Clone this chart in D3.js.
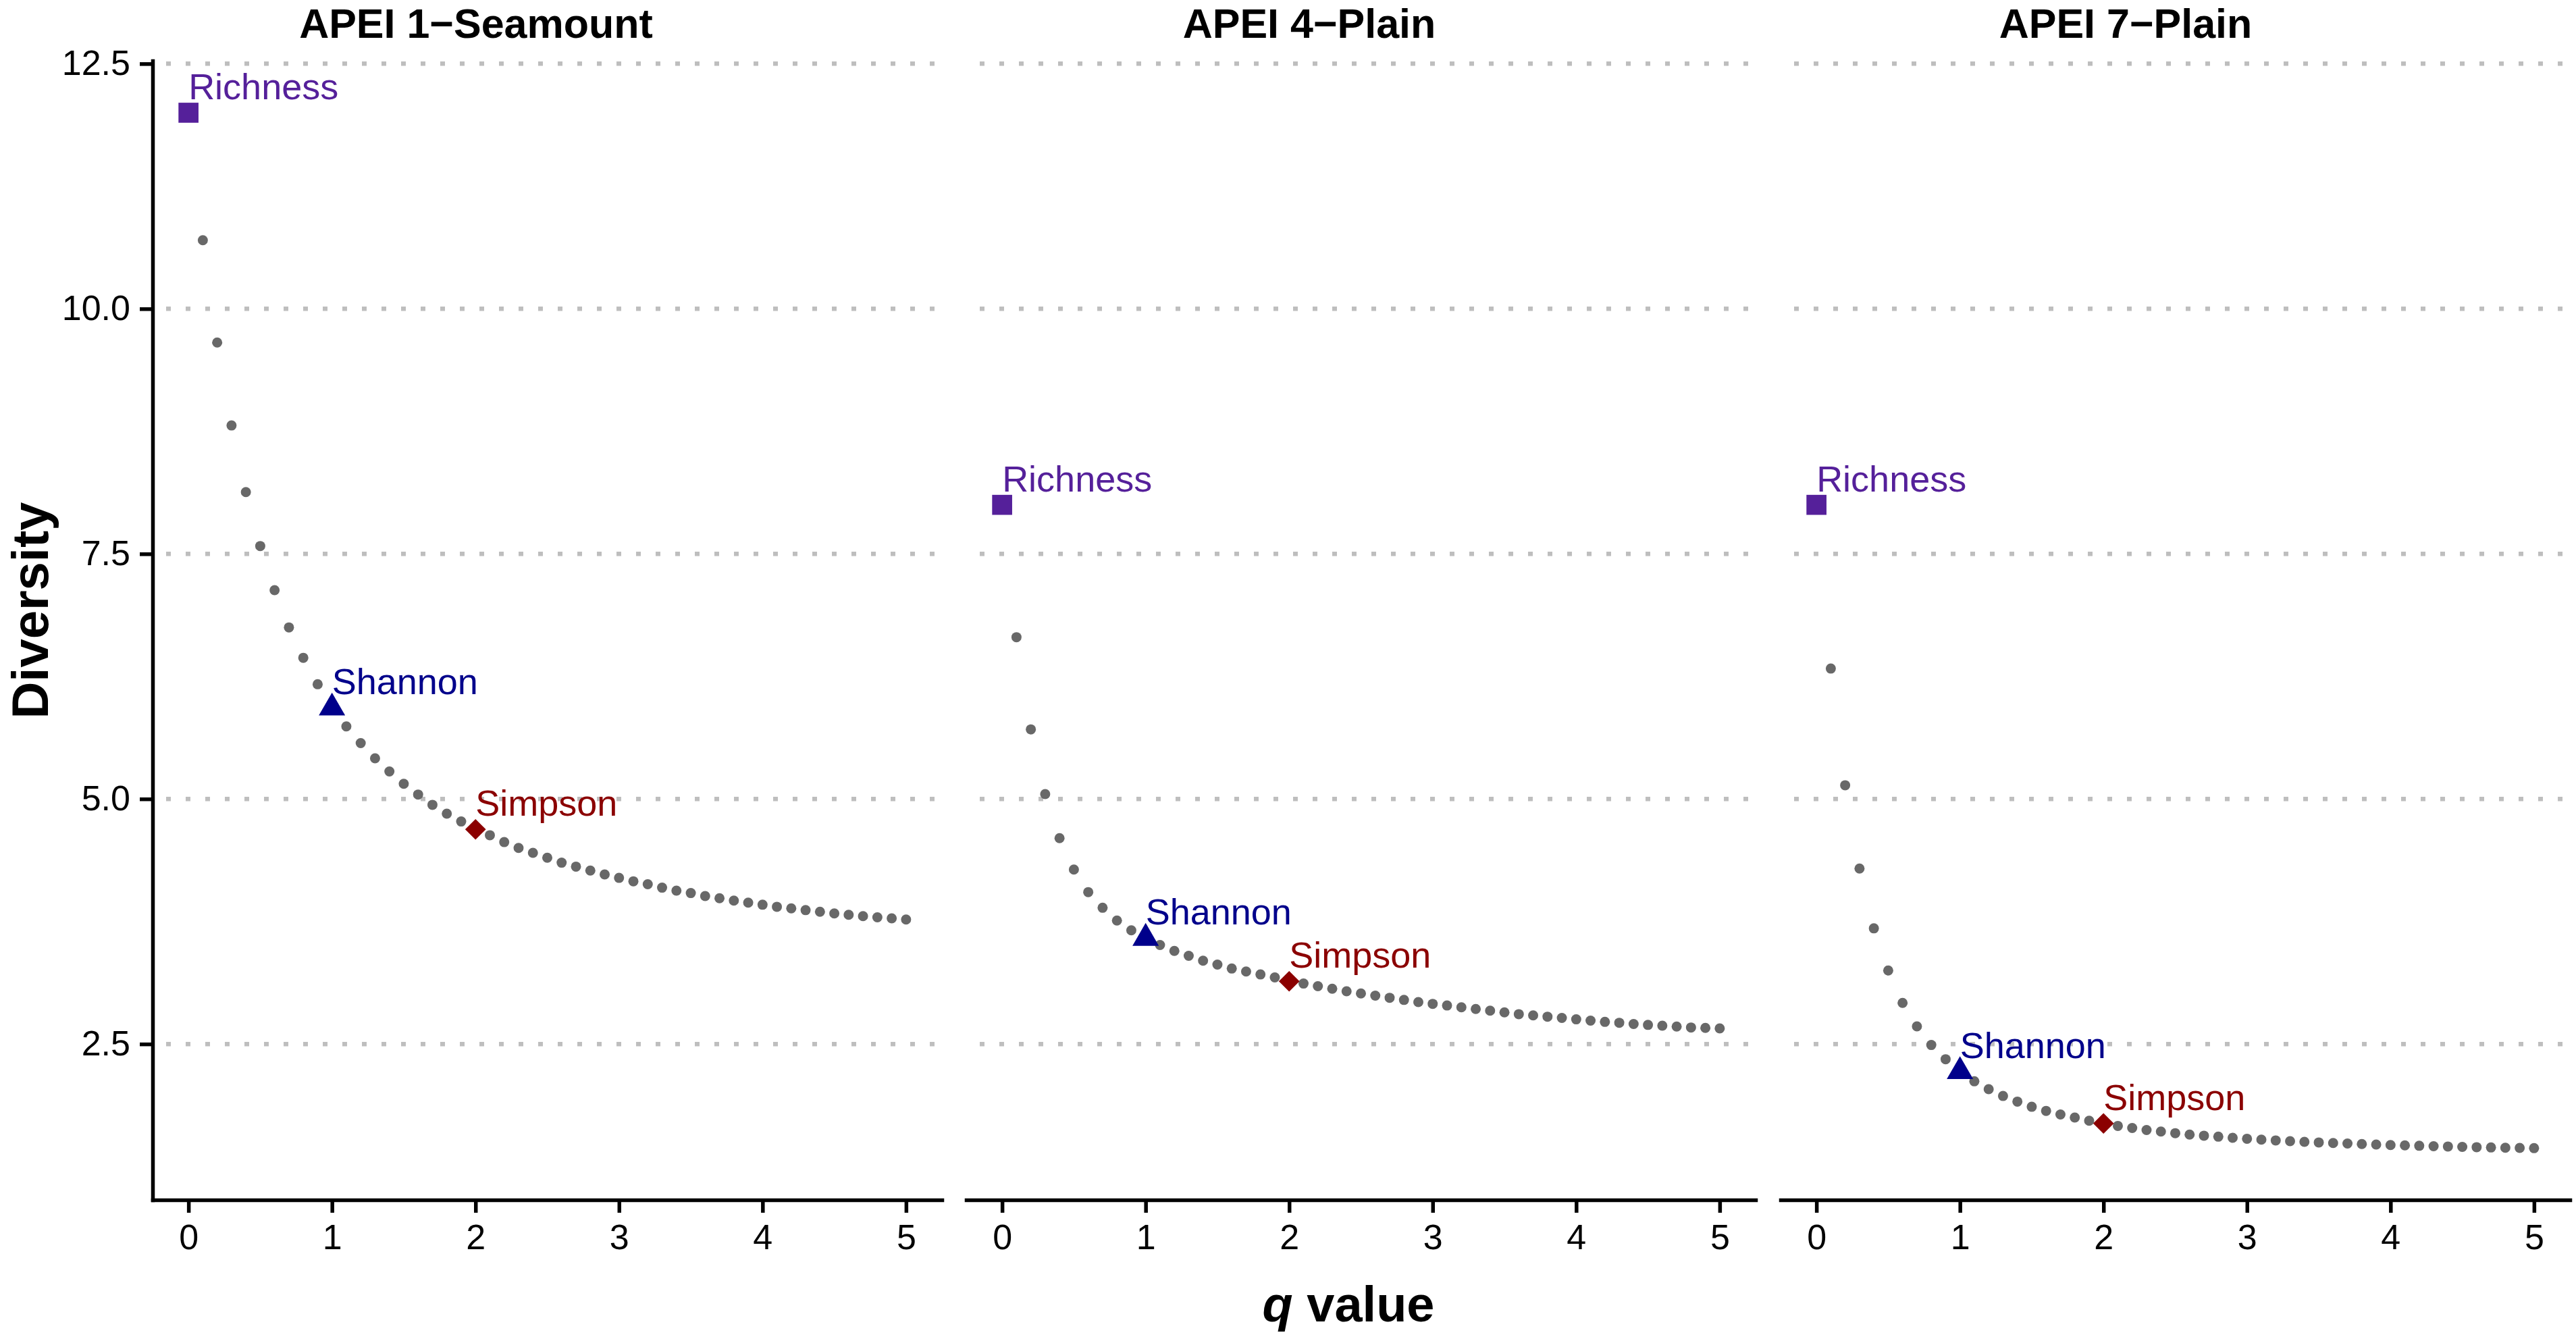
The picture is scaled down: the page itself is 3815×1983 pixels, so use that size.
<!DOCTYPE html>
<html>
<head>
<meta charset="utf-8">
<script src="https://cdn.jsdelivr.net/npm/d3@7"></script>
<style>
  body { margin: 0; background: #fff; }
  text { font-family: "Liberation Sans", Arial, sans-serif; }
</style>
</head>
<body>
<div id="chart"></div>
<script>
// q values (x) shared by every panel
var qValues = [0, 0.1, 0.2, 0.3, 0.4, 0.5, 0.6, 0.7, 0.8, 0.9,
               1, 1.1, 1.2, 1.3, 1.4, 1.5, 1.6, 1.7, 1.8, 1.9,
               2, 2.1, 2.2, 2.3, 2.4, 2.5, 2.6, 2.7, 2.8, 2.9,
               3, 3.1, 3.2, 3.3, 3.4, 3.5, 3.6, 3.7, 3.8, 3.9,
               4, 4.1, 4.2, 4.3, 4.4, 4.5, 4.6, 4.7, 4.8, 4.9, 5];

// panel titles
var sites = ["APEI 1\u2212Seamount", "APEI 4\u2212Plain", "APEI 7\u2212Plain"];

// diversity profile of each site, one value per q
var seamount = [12.0, 10.70, 9.656, 8.81, 8.13, 7.58, 7.13, 6.75, 6.44, 6.17,
                5.93, 5.74, 5.57, 5.415, 5.28, 5.155, 5.045, 4.94, 4.85, 4.77,
                4.69, 4.63, 4.56, 4.50, 4.45, 4.40, 4.35, 4.31, 4.27, 4.23,
                4.195, 4.16, 4.13, 4.095, 4.065, 4.04, 4.01, 3.987, 3.963, 3.942,
                3.921, 3.90, 3.884, 3.866, 3.849, 3.832, 3.818, 3.805, 3.793, 3.782, 3.77];
var plain4 = [8.0, 6.65, 5.71, 5.05, 4.60, 4.28, 4.05, 3.89, 3.76, 3.66,
              3.58, 3.51, 3.45, 3.40, 3.35, 3.31, 3.27, 3.24, 3.21, 3.18,
              3.14, 3.117, 3.09, 3.064, 3.038, 3.016, 2.994, 2.972, 2.95, 2.928,
              2.91, 2.893, 2.875, 2.858, 2.84, 2.823, 2.805, 2.792, 2.779, 2.766,
              2.752, 2.739, 2.726, 2.717, 2.704, 2.695, 2.687, 2.678, 2.669, 2.665, 2.66];
var plain7 = [8.0, 6.33, 5.14, 4.29, 3.68, 3.25, 2.92, 2.68, 2.49, 2.345,
              2.22, 2.12, 2.04, 1.97, 1.913, 1.86, 1.818, 1.781, 1.75, 1.718,
              1.69, 1.665, 1.644, 1.623, 1.607, 1.591, 1.576, 1.565, 1.555, 1.544,
              1.534, 1.525, 1.517, 1.509, 1.502, 1.496, 1.49, 1.485, 1.48, 1.475,
              1.47, 1.466, 1.462, 1.458, 1.455, 1.451, 1.448, 1.445, 1.442, 1.44, 1.438];
var series = [seamount, plain4, plain7];

// named diversity indices (q = 0, 1, 2)
var indexNames = ["Richness", "Shannon", "Simpson"];
var indexQ = [0, 1, 2];
var indexColors = ["#55209a", "#00008b", "#8b0000"];

var xTicks = [0, 1, 2, 3, 4, 5];
var yTicks = [2.5, 5, 7.5, 10, 12.5];

// layout
var W = 3815, H = 1983;
var panelLefts = [226, 1431, 2637],
    panelW = 1169,
    panelTop = 90,
    panelBottom = 1777,
    titleCenters = [479, 508, 511];

var svg = d3.select("#chart")
  .append("svg")
  .attr("width", W)
  .attr("height", H)
  .style("background", "#fff");

// y scale, shared
var y = d3.scaleLinear()
  .domain([0.91, 12.53])
  .range([panelBottom, panelTop]);

// one symbol generator per index shape
var shapes = [
  d3.symbol().type(d3.symbolSquare).size(880),
  d3.symbol().type(d3.symbolTriangle).size(660),
  d3.symbol().type(d3.symbolSquare).size(470)
];

sites.forEach(function(site, i) {
  var left = panelLefts[i];
  var x = d3.scaleLinear()
    .domain([-0.25, 5.25])
    .range([left, left + panelW]);

  var g = svg.append("g");

  // dotted horizontal grid
  g.selectAll("grid")
    .data(yTicks)
    .enter()
    .append("line")
    .attr("x1", left)
    .attr("x2", left + panelW)
    .attr("y1", function(d){ return y(d) })
    .attr("y2", function(d){ return y(d) })
    .attr("stroke", "#bebebe")
    .attr("stroke-width", 6.5)
    .attr("stroke-dasharray", "7 22")
    .attr("stroke-dashoffset", -20);

  // x axis
  var xAxis = g.append("g")
    .attr("transform", "translate(0," + panelBottom + ")")
    .call(d3.axisBottom(x).tickValues(xTicks).tickFormat(d3.format("d"))
      .tickSize(19).tickSizeOuter(0).tickPadding(17));
  xAxis.select(".domain").attr("stroke-width", 5.5).attr("stroke-linecap", "square");
  xAxis.selectAll(".tick line").attr("stroke-width", 5.5);
  xAxis.selectAll(".tick text")
    .attr("font-size", 52)
    .attr("fill", "#000")
    .style("font-family", "'Liberation Sans', Arial, sans-serif");

  // y axis only on the first panel
  if (i === 0) {
    var yAxis = g.append("g")
      .attr("transform", "translate(" + left + ",0)")
      .call(d3.axisLeft(y).tickValues(yTicks).tickFormat(d3.format(".1f"))
        .tickSize(19).tickSizeOuter(0).tickPadding(14));
    yAxis.select(".domain").attr("stroke-width", 5.5).attr("stroke-linecap", "square");
    yAxis.selectAll(".tick line").attr("stroke-width", 5.5);
    yAxis.selectAll(".tick text")
      .attr("font-size", 52)
      .attr("fill", "#000")
      .style("font-family", "'Liberation Sans', Arial, sans-serif");
  }

  // panel title
  g.append("text")
    .attr("x", left + titleCenters[i])
    .attr("y", 56)
    .attr("text-anchor", "middle")
    .attr("font-size", 61)
    .attr("font-weight", "bold")
    .text(site);

  // grey profile dots
  var vals = series[i];
  g.selectAll("dots")
    .data(qValues)
    .enter()
    .append("circle")
    .attr("cx", function(d){ return x(d) })
    .attr("cy", function(d, k){ return y(vals[k]) })
    .attr("r", 7.5)
    .style("fill", "#686868");

  // highlighted indices
  indexNames.forEach(function(name, k) {
    var q = indexQ[k];
    var v = vals[qValues.indexOf(q)];
    g.append("path")
      .attr("d", shapes[k]())
      .attr("transform", "translate(" + x(q) + "," + y(v) + ")" + (k === 2 ? " rotate(45)" : ""))
      .style("fill", indexColors[k]);
    g.append("text")
      .attr("x", x(q))
      .attr("y", y(v) - 20)
      .attr("font-size", 54)
      .attr("fill", indexColors[k])
      .text(name);
  });
});

// axis titles
var xt = svg.append("text")
  .attr("x", 1997)
  .attr("y", 1957)
  .attr("text-anchor", "middle")
  .attr("font-size", 74)
  .attr("font-weight", "bold");
xt.append("tspan").attr("font-style", "italic").text("q");
xt.append("tspan").text(" value");

svg.append("text")
  .attr("transform", "translate(71,904) rotate(-90)")
  .attr("text-anchor", "middle")
  .attr("font-size", 76)
  .attr("font-weight", "bold")
  .text("Diversity");
</script>
</body>
</html>
